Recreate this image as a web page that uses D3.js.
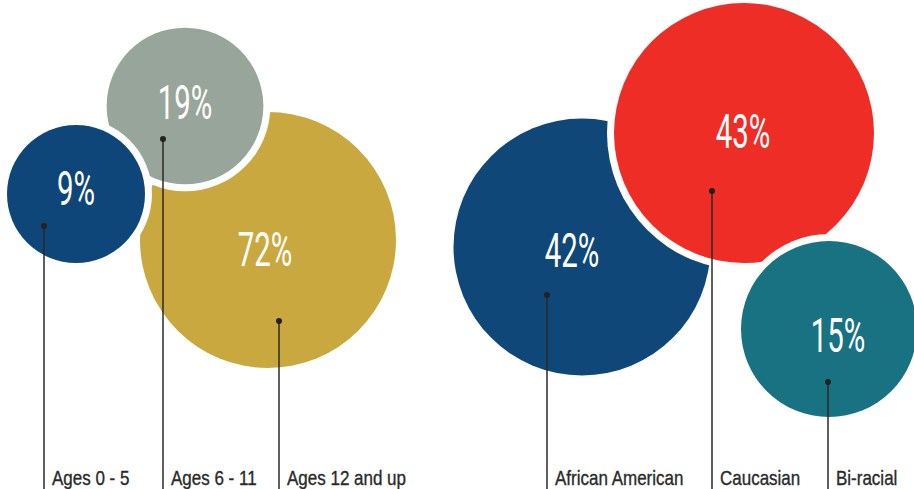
<!DOCTYPE html>
<html>
<head>
<meta charset="utf-8">
<script src="https://cdn.jsdelivr.net/npm/d3@7"></script>
<style>
  body { margin: 0; background: #fff; }
  svg { display: block; }
</style>
</head>
<body>
<div id="vis"></div>
<script>
// data
var ageGroups = ["Ages 0 - 5", "Ages 6 - 11", "Ages 12 and up"];
var ageShares = [9, 19, 72];
var raceGroups = ["African American", "Caucasian", "Bi-racial"];
var raceShares = [42, 43, 15];

var width = 914, height = 489;
var halo = 7;

// layout of each bubble (centre, dot offset, label offset), drawn in stacking order
var panels = [
  {
    groups: ageGroups, shares: ageShares,
    colors: ["#0f4679", "#97a59a", "#c9a93f"],
    rDomain: [9, 72], rRange: [69, 128],
    centers: [[76, 194], [185, 106], [268, 240]],
    dots: [[-32, 32], [-22, 33], [11, 81]],
    textOff: [[0, 11], [0, 13], [-3, 26]],
    order: [2, 1, 0]
  },
  {
    groups: raceGroups, shares: raceShares,
    colors: ["#0f4779", "#ee2d27", "#187282"],
    rDomain: [15, 43], rRange: [88, 130],
    centers: [[582, 247], [744, 133], [829, 329]],
    dots: [[-35, 48], [-32, 58], [-1, 53]],
    textOff: [[-10, 20], [-1, 15], [9, 23]],
    order: [0, 1, 2]
  }
];

var svg = d3.select("#vis").append("svg")
  .attr("width", width)
  .attr("height", height);

panels.forEach(function(p) {
  var rScale = d3.scaleLinear().domain(p.rDomain).range(p.rRange);
  var rows = p.groups.map(function(g, i) {
    return {
      group: g, share: p.shares[i], color: p.colors[i],
      x: p.centers[i][0], y: p.centers[i][1],
      dx: p.dots[i][0], dy: p.dots[i][1],
      tx: p.textOff[i][0], ty: p.textOff[i][1]
    };
  });
  var stacked = p.order.map(function(i) { return rows[i]; });

  var bubble = svg.append("g").selectAll("g")
    .data(stacked).enter().append("g");

  // white halo then the coloured disc
  bubble.append("circle")
    .attr("cx", function(d) { return d.x; })
    .attr("cy", function(d) { return d.y; })
    .attr("r", function(d) { return rScale(d.share) + halo; })
    .attr("fill", "#fff");
  bubble.append("circle")
    .attr("cx", function(d) { return d.x; })
    .attr("cy", function(d) { return d.y; })
    .attr("r", function(d) { return rScale(d.share); })
    .attr("fill", function(d) { return d.color; });

  // leader lines + labels on top
  var lead = svg.append("g").selectAll("g")
    .data(rows).enter().append("g");

  lead.append("text")
    .attr("transform", function(d) {
      return "translate(" + (d.x + d.tx) + "," + (d.y + d.ty) + ") scale(0.6,1)";
    })
    .attr("text-anchor", "middle")
    .attr("fill", "#fff")
    .style("font-family", "Roboto, 'DejaVu Sans', sans-serif")
    .style("font-size", "49px")
    .text(function(d) { return d.share + "%"; });

  lead.append("line")
    .attr("x1", function(d) { return d.x + d.dx; })
    .attr("x2", function(d) { return d.x + d.dx; })
    .attr("y1", function(d) { return d.y + d.dy; })
    .attr("y2", height)
    .attr("stroke", "#2a2a2a")
    .attr("stroke-width", 1.5);

  lead.append("circle")
    .attr("cx", function(d) { return d.x + d.dx; })
    .attr("cy", function(d) { return d.y + d.dy; })
    .attr("r", 3)
    .attr("fill", "#222");

  // category names, narrowed to look condensed
  lead.append("text")
    .attr("transform", function(d) {
      return "translate(" + (d.x + d.dx + 8) + ",485) scale(0.85,1)";
    })
    .attr("fill", "#2a2a2a")
    .attr("stroke", "#2a2a2a")
    .attr("stroke-width", 0.35)
    .style("font-family", "'Liberation Sans', Arial, sans-serif")
    .style("font-size", "20px")
    .text(function(d) { return d.group; });
});
</script>
</body>
</html>
